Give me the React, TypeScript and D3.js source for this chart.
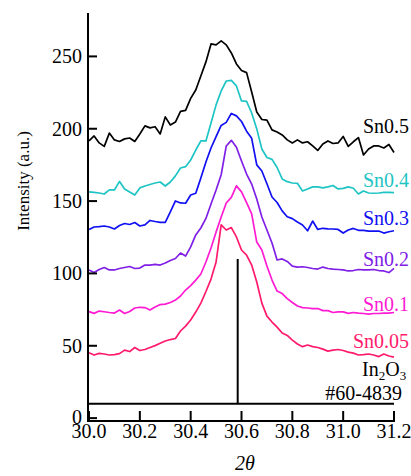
import React from "react";
import * as d3 from "d3";

const angles = [
  30.0, 30.02, 30.04, 30.06, 30.08, 30.1, 30.12, 30.14, 30.16, 30.18,
  30.2, 30.22, 30.24, 30.26, 30.28, 30.3, 30.32, 30.34, 30.36, 30.38,
  30.4, 30.42, 30.44, 30.46, 30.48, 30.5, 30.52, 30.54, 30.56, 30.58,
  30.6, 30.62, 30.64, 30.66, 30.68, 30.7, 30.72, 30.74, 30.76, 30.78,
  30.8, 30.82, 30.84, 30.86, 30.88, 30.9, 30.92, 30.94, 30.96, 30.98,
  31.0, 31.02, 31.04, 31.06, 31.08, 31.1, 31.12, 31.14, 31.16, 31.18, 31.2,
];

const sn05 = [
  191.6, 195, 190.2, 187.8, 197, 192.3, 191.2, 193, 193.6, 191.2,
  196.4, 202, 200.6, 201.4, 196.4, 208.2, 202.6, 204.6, 212, 212.7,
  221, 226.8, 236.5, 246.2, 258.6, 258, 260.7, 258, 252.4, 244.8,
  240.3, 238.8, 225.4, 211.6, 206.4, 206, 199.2, 197.8, 195.7, 192.3,
  190.2, 192.3, 190.2, 191, 188.1, 185, 189.5, 191.6, 189.8, 190.2,
  194.7, 187.8, 191, 193.9, 181.9, 186, 188.1, 188.1, 186.7, 189.1, 183.6,
];

const sn04 = [
  156.3, 156, 155.6, 154.9, 157.7, 157.7, 163.6, 158.4, 156.3, 154.2,
  159.1, 160.4, 161.5, 162.5, 163.2, 160.4, 163.2, 167.4, 172.9, 173.8,
  178.4, 185.3, 191.6, 191.6, 204, 216.5, 226.1, 233, 233.4, 229.6,
  219.2, 218.9, 210.9, 199.9, 186, 180.1, 178.8, 173.2, 165.3, 163.4,
  162.5, 162.3, 157, 158.4, 159.8, 159.8, 159.1, 159.8, 160.8, 158.4,
  158.8, 159.8, 158.9, 154.9, 157, 155.6, 155.4, 155.6, 156, 156, 155.8,
];

const sn03 = [
  130.3, 132.1, 132.4, 132.8, 132.1, 130.7, 133.1, 134.5, 133.8, 135.2,
  132.8, 133.5, 136.6, 135.9, 135.3, 135.3, 142.5, 150.1, 148.7, 148.5,
  154.2, 155.4, 166, 177, 186.7, 194.5, 202.3, 204.4, 210.6, 208.9,
  205, 198.3, 193.4, 175, 170.8, 162, 152.8, 149, 143.2, 139.2,
  137.9, 135.5, 133.5, 129.5, 136.2, 130.4, 131.2, 130.8, 130.7, 130.4,
  127.9, 130, 131.1, 129.8, 129.8, 129.3, 129.3, 129.3, 127.9, 128.8, 129.5,
];

const sn02 = [
  102.4, 100.6, 102.7, 104.1, 102.4, 102.4, 103.4, 104.1, 104.8, 103.4,
  103.7, 105.8, 105.8, 106.2, 105.8, 107.2, 108.9, 110.3, 114.1, 112,
  118.3, 126.6, 131.4, 138, 148, 157.7, 168.2, 188.1, 192, 187.2,
  177.7, 168.7, 161.8, 151.5, 139, 130, 121, 109.3, 110, 108.3,
  105.1, 104.4, 104.6, 104.1, 103.4, 103, 104.4, 103.4, 103, 102.7,
  102.4, 101.7, 102, 102.7, 102.4, 102.4, 102.7, 102, 101.7, 100.6, 103.5,
];

const sn01 = [
  73.6, 72.4, 74, 73.5, 73, 72.6, 74.7, 72.3, 73.7, 76.1,
  76.6, 76.4, 74.7, 76.8, 78.5, 78.8, 79.9, 81.6, 84.4, 88.5,
  91.6, 95.4, 99.6, 107.9, 117.6, 128.6, 139, 148.7, 152.6, 160.5,
  156.4, 149, 141.1, 121.7, 116.2, 105.1, 95.4, 87.8, 86.1, 82.6,
  79.9, 77.5, 76.4, 76.1, 75.7, 75.7, 74.3, 74.3, 73, 73.4,
  73.4, 72.4, 73, 72.6, 72.3, 71.9, 72.3, 72.3, 72.6, 72.6, 73,
];

const sn005 = [
  45.2, 43.6, 44.7, 44.3, 43.6, 43.9, 44.6, 47, 46, 48.8,
  46.7, 47.4, 48.8, 50.1, 51.7, 53.3, 54.3, 55, 60.2, 63.6,
  67.8, 73.3, 79.5, 87.5, 96.1, 107.9, 133.5, 130, 131.7, 125.2,
  116.2, 112.7, 105.8, 94.1, 79.5, 70.5, 66.4, 62.9, 58.8, 57.1,
  53.9, 51.2, 49.4, 50.5, 49.4, 48.8, 47.7, 46.3, 47, 47.4,
  46.7, 45.6, 44.9, 43.6, 43.9, 44.3, 43.6, 42.5, 44.3, 42.9, 42.2,
];

const seriesNames = ["Sn0.5", "Sn0.4", "Sn0.3", "Sn0.2", "Sn0.1", "Sn0.05"];
const seriesValues = [sn05, sn04, sn03, sn02, sn01, sn005];
const seriesColors = ["#000000", "#1fc4c4", "#1010f2", "#8020e6", "#ff1ad4", "#ff1a6c"];

const xTicks = [30.0, 30.2, 30.4, 30.6, 30.8, 31.0, 31.2];
const yTicks = [0, 50, 100, 150, 200, 250];

const refPeakAngle = 30.585;
const refBase = 10;
const refPeakTop = 110;

const FONT = "'Liberation Serif', 'Times New Roman', serif";

export default function App() {
  const x = d3.scaleLinear().domain([29.996, 31.2]).range([88, 394]);
  const y = d3.scaleLinear().domain([-2, 280]).range([421, 13]);

  const line = d3
    .line<number>()
    .x((_, i) => x(angles[i]))
    .y((d) => y(d));

  const labelYs = [133, 187, 225, 266, 311, 348];

  return (
    <svg
      width={411}
      height={476}
      style={{ position: "absolute", left: 0, top: 0, background: "#fff" }}
      fontFamily={FONT}
    >
      {seriesValues.map((vals, si) => (
        <path
          key={seriesNames[si]}
          d={line(vals) || ""}
          fill="none"
          stroke={seriesColors[si]}
          strokeWidth={1.7}
          strokeLinejoin="round"
        />
      ))}

      <line x1={x(30.0)} x2={x(31.2)} y1={y(refBase)} y2={y(refBase)} stroke="#000" strokeWidth={2} />
      <line
        x1={x(refPeakAngle)}
        x2={x(refPeakAngle)}
        y1={y(refBase)}
        y2={y(refPeakTop)}
        stroke="#000"
        strokeWidth={2}
      />

      <line x1={88} x2={88} y1={y(280)} y2={y(-2) + 1} stroke="#000" strokeWidth={2} />
      <line x1={87} x2={x(31.2) + 1} y1={y(-2)} y2={y(-2)} stroke="#000" strokeWidth={2} />
      {yTicks.map((t) => (
        <g key={"y" + t}>
          <line x1={88} x2={97} y1={y(t)} y2={y(t)} stroke="#000" strokeWidth={2} />
          <text x={82} y={y(t)} dy={t === 0 ? "0.28em" : "0.35em"} textAnchor="end" fontSize={20}>
            {t}
          </text>
        </g>
      ))}
      {xTicks.map((t) => (
        <g key={"x" + t}>
          <line x1={x(t)} x2={x(t)} y1={y(-2)} y2={y(-2) - 10} stroke="#000" strokeWidth={2} />
          <text x={x(t)} y={438} textAnchor="middle" fontSize={20}>
            {t.toFixed(1)}
          </text>
        </g>
      ))}

      <text transform="translate(29,181) rotate(-90)" textAnchor="middle" fontSize={17}>
        Intensity (a.u.)
      </text>
      <text x={245} y={470} textAnchor="middle" fontSize={20} fontStyle="italic">
        2θ
      </text>

      {seriesNames.map((n, i) => (
        <text key={"l" + n} x={409} y={labelYs[i]} textAnchor="end" fontSize={20} fill={seriesColors[i]}>
          {n}
        </text>
      ))}
      <text x={362} y={376} textAnchor="start" fontSize={20} fill="#000">
        <tspan>In</tspan>
        <tspan fontSize={13} dy={4}>2</tspan>
        <tspan dy={-4}>O</tspan>
        <tspan fontSize={13} dy={4}>3</tspan>
      </text>
      <text x={402} y={400} textAnchor="end" fontSize={20} fill="#000">
        #60-4839
      </text>
    </svg>
  );
}
